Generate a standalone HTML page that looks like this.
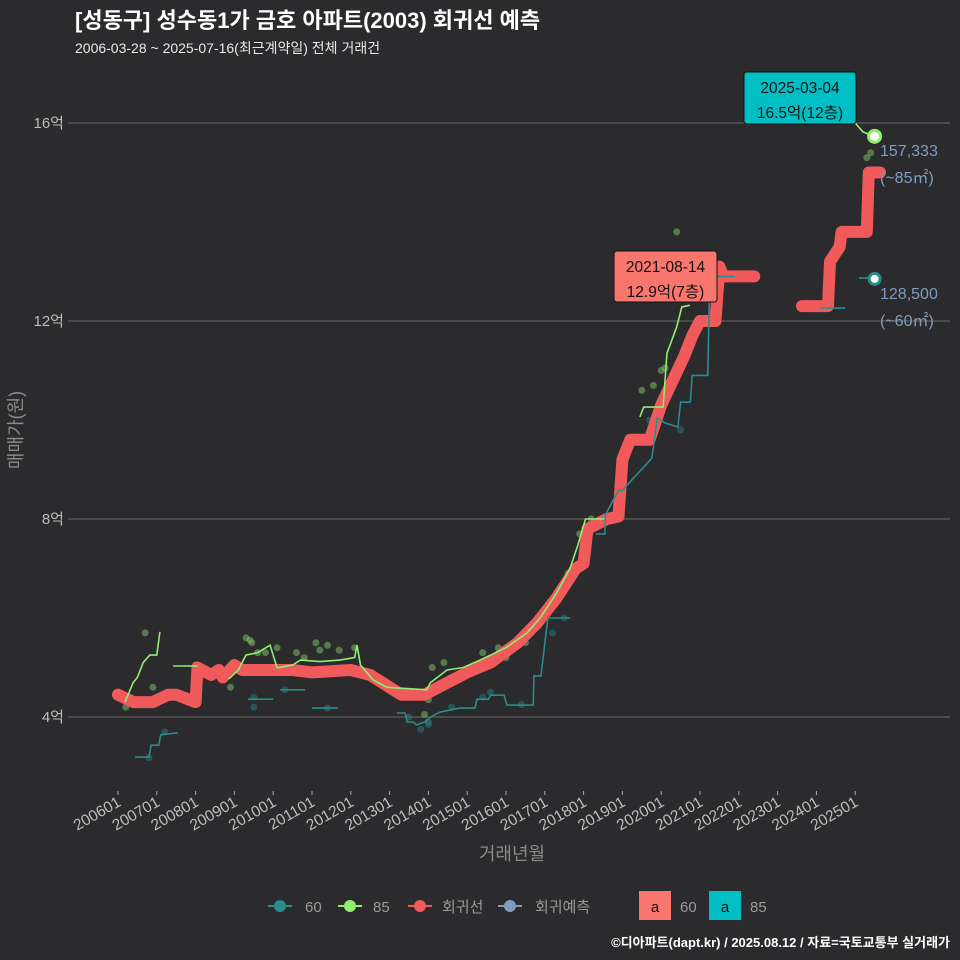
<!DOCTYPE html>
<html><head><meta charset="utf-8"><style>
body{margin:0;background:#2b2a2c;}
svg{display:block;font-family:"Liberation Sans","Noto Sans CJK KR",sans-serif;}
</style></head><body>
<svg id="c" width="960" height="960" xmlns="http://www.w3.org/2000/svg">
<rect width="960" height="960" fill="#2b2a2c"/>
<text x="75" y="28" fill="#ffffff" font-size="22" font-weight="bold">[성동구] 성수동1가 금호 아파트(2003) 회귀선 예측</text>
<text x="75" y="53" fill="#e8e8e8" font-size="14">2006-03-28 ~ 2025-07-16(최근계약일) 전체 거래건</text>
<g id="grid"></g><g id="xt"></g><g id="marks"></g>
<text transform="translate(22,430) rotate(-90)" text-anchor="middle" fill="#8a8a8a" font-size="18">매매가(원)</text>
<text x="512" y="860" text-anchor="middle" fill="#8a8a8a" font-size="18">거래년월</text>
<g font-size="15" fill="#9a9a9a">
<g><line x1="268" y1="906" x2="292" y2="906" stroke="#2a8c8c" stroke-width="2"/><circle cx="280" cy="906" r="6" fill="#2a8c8c"/><text x="305" y="912">60</text></g>
<g><line x1="338" y1="906" x2="362" y2="906" stroke="#90ee70" stroke-width="2"/><circle cx="350" cy="906" r="6" fill="#90ee70"/><text x="373" y="912">85</text></g>
<g><line x1="408" y1="906" x2="432" y2="906" stroke="#f05a5a" stroke-width="2"/><circle cx="420" cy="906" r="6" fill="#f05a5a"/><text x="442" y="912">회귀선</text></g>
<g><line x1="498" y1="906" x2="522" y2="906" stroke="#7f9cc0" stroke-width="2"/><circle cx="510" cy="906" r="6" fill="#7f9cc0"/><text x="535" y="912">회귀예측</text></g>
<g><rect x="639" y="891" width="32" height="29" fill="#f8766d"/><text x="655" y="912" fill="#111" text-anchor="middle">a</text><text x="680" y="912">60</text></g>
<g><rect x="709" y="891" width="32" height="29" fill="#00bfc4"/><text x="725" y="912" fill="#111" text-anchor="middle">a</text><text x="750" y="912">85</text></g>
</g>
<text x="950" y="947" text-anchor="end" fill="#ffffff" font-size="13" font-weight="bold">©디아파트(dapt.kr) / 2025.08.12 / 자료=국토교통부 실거래가</text>
</svg>
<script>
const yTicks=[4,8,12,16];
const xTickLabels=["200601","200701","200801","200901","201001","201101","201201","201301","201401","201501","201601","201701","201801","201901","202001","202101","202201","202301","202401","202501"];
const regT=[2006.0,2006.4,2006.9,2007.3,2007.5,2008.0,2008.05,2008.4,2008.6,2008.7,2009.0,2009.2,2010.5,2011,2012,2012.5,2013.0,2013.3,2013.9,2014.5,2015.0,2015.6,2016.3,2016.8,2017.3,2017.8,2018.0,2018.1,2018.6,2018.9,2019.0,2019.2,2019.7,2020.0,2020.3,2020.6,2020.8,2021.0,2021.4,2021.5,2021.6,2022.4,null,2023.63,2024.3,2024.35,2024.6,2024.65,2025.3,2025.35,2025.64];
const regV=[4.45,4.3,4.3,4.45,4.45,4.3,5.0,4.85,4.95,4.8,5.05,4.95,4.95,4.9,4.95,4.85,4.6,4.45,4.45,4.7,4.9,5.1,5.5,5.9,6.4,7.0,7.1,7.8,8.0,8.05,9.2,9.6,9.6,10.3,10.8,11.3,11.7,12.0,12.0,13.1,12.9,12.9,null,12.3,12.3,13.2,13.5,13.8,13.8,15.0,15.0];
const g85T=[2006.18,2006.39,2006.5,2006.65,2006.82,2007.0,2007.08,null,2007.42,2008.06,null,2008.84,2008.9,2009.1,2009.3,2009.6,2009.92,2010.1,2010.5,2010.7,2011.2,2011.72,2012.1,2012.16,2012.25,2012.57,2012.93,2013.96,2014.05,2014.48,2014.9,2015.33,2016.0,2016.54,2016.88,2017.3,2017.65,2017.85,2018.05,2018.55,null,2019.45,2019.55,2020.05,2020.15,2020.4,2020.53,2020.74,null,2025.0,2025.2,2025.5];
const g85V=[4.3,4.69,4.8,5.1,5.25,5.25,5.72,null,5.03,5.03,null,4.77,4.8,4.95,5.25,5.3,5.45,4.99,5.05,5.15,5.12,5.15,5.2,5.45,5.05,4.75,4.6,4.55,4.69,4.95,5.0,5.15,5.4,5.7,6.0,6.5,7.0,7.47,8.0,8.0,null,10.06,10.26,10.26,11.35,11.88,12.28,12.32,null,16.0,15.82,15.73];
const t60T=[2006.44,2006.8,2006.85,2007.05,2007.1,2007.55,null,2009.35,2010.0,null,2010.18,2010.82,null,2011.0,2011.67,null,2013.19,2013.4,2013.45,2013.6,2013.7,2013.9,2014.1,2014.3,2014.81,2015.2,2015.25,2015.55,2015.6,2015.95,2016.02,2016.7,2016.72,2016.9,2017.08,2017.65,null,2018.32,2018.55,2018.56,2018.9,2019.0,2019.76,2019.9,2020.1,2020.43,2020.5,2020.75,2020.8,2021.2,2021.25,2021.9,null,2024.1,2024.74,null,2025.1,2025.5];
const t60V=[3.19,3.19,3.43,3.43,3.64,3.68,null,4.36,4.36,null,4.55,4.55,null,4.18,4.18,null,4.08,4.08,3.9,3.9,3.84,3.9,4.02,4.1,4.18,4.18,4.36,4.36,4.44,4.44,4.24,4.24,4.83,4.83,6.0,6.0,null,7.7,7.7,8.08,8.58,8.58,9.23,10.04,9.94,9.86,10.36,10.36,10.9,10.9,12.9,12.9,null,12.26,12.26,null,12.87,12.87];
const dot85T=[2006.2,2006.7,2006.9,2008.0,2008.9,2009.3,2009.4,2009.45,2009.6,2009.8,2010.1,2010.6,2010.8,2011.1,2011.2,2011.4,2011.7,2012.1,2012.5,2013.4,2013.9,2014.0,2014.1,2014.4,2014.9,2015.4,2015.8,2016.0,2016.5,2016.9,2017.1,2017.4,2017.6,2017.9,2018.2,2019.2,2019.5,2019.8,2020.0,2020.1,2020.4,2020.9,2024.9,2025.3,2025.4];
const dot85V=[4.2,5.7,4.6,5.05,4.6,5.6,5.55,5.5,5.3,5.3,5.4,5.3,5.2,5.5,5.35,5.45,5.35,5.4,4.9,4.4,4.05,4.35,5.0,5.1,4.9,5.3,5.4,5.2,5.5,6.0,6.2,6.6,6.9,7.7,8.0,9.5,10.6,10.7,11.0,11.05,13.8,12.6,16.5,15.3,15.4];
const dot60T=[2006.8,2007.2,2009.5,2009.5,2010.3,2011.4,2013.5,2013.8,2014.0,2014.0,2014.6,2015.4,2015.6,2016.4,2017.2,2017.5,2018.6,2019.7,2020.5];
const dot60V=[3.18,3.7,4.4,4.2,4.55,4.18,4.0,3.75,3.9,3.85,4.2,4.4,4.5,4.25,5.7,6.0,8.0,10.0,9.8];

const NS='http://www.w3.org/2000/svg';
const X=t=>118+(t-2006)*38.8;
const Y=v=>717-(v-4)*49.5;
function el(tag,attrs,parent){const e=document.createElementNS(NS,tag);for(const k in attrs)e.setAttribute(k,attrs[k]);parent.appendChild(e);return e;}
const grid=document.getElementById('grid'),xt=document.getElementById('xt'),marks=document.getElementById('marks');
yTicks.forEach(v=>{
  const l=el('line',{x1:68,x2:950,y1:Y(v),y2:Y(v),stroke:'#6a6a6a','stroke-width':1},grid);
  
  
  const t=el('text',{x:64,y:Y(v)+5,'text-anchor':'end',fill:'#bdbdbd','font-size':15},grid);
  t.textContent=v+'억';
  
  
});
xTickLabels.forEach((s,i)=>{
  const x=X(2006+i);
  const tk=el('line',{x1:x,x2:x,y1:791,y2:795,stroke:'#aaa'},xt);
  
  
  const t=el('text',{transform:`translate(${x+4},${805}) rotate(-30)`,'text-anchor':'end',fill:'#bdbdbd','font-size':15.5},xt);
  t.textContent=s;
  
  
});
function path(T,V){let d='',pen=false;for(let i=0;i<T.length;i++){if(T[i]===null){pen=false;continue;}d+=(pen?'L':'M')+X(T[i]).toFixed(1)+' '+Y(V[i]).toFixed(1);pen=true;}return d;}
dot85T.forEach((t,i)=>{const c=el('circle',{cx:X(t),cy:Y(dot85V[i]),r:3.5,fill:'#7fc96a','fill-opacity':0.5},marks);
  
  });
dot60T.forEach((t,i)=>{const c=el('circle',{cx:X(t),cy:Y(dot60V[i]),r:3.5,fill:'#2a7f7f','fill-opacity':0.5},marks);
  
  });
const r=el('path',{d:path(regT,regV),fill:'none',stroke:'#f05a5a','stroke-width':12,'stroke-linejoin':'round','stroke-linecap':'round'},marks);


const g=el('path',{d:path(g85T,g85V),fill:'none',stroke:'#90ee70','stroke-width':1.6},marks);


const tl=el('path',{d:path(t60T,t60V),fill:'none',stroke:'#2a8c8c','stroke-width':1.6},marks);


const e1=el('circle',{cx:X(2025.5),cy:Y(15.73),r:6,fill:'#fff',stroke:'#90ee70','stroke-width':3},marks);


const e2=el('circle',{cx:X(2025.5),cy:Y(12.85),r:5.5,fill:'#fff',stroke:'#2a8c8c','stroke-width':3},marks);


function box(x,y,w,h,fill,l1,l2,name){const gg=el('g',{},marks);
  
  
  el('rect',{x:x,y:y,width:w,height:h,rx:3,fill:fill,stroke:'#111','stroke-width':1},gg);
  const a=el('text',{x:x+w/2,y:y+21,'text-anchor':'middle',fill:'#111','font-size':15.5},gg);a.textContent=l1;
  const b=el('text',{x:x+w/2,y:y+46,'text-anchor':'middle',fill:'#111','font-size':15.5},gg);b.textContent=l2;}
box(744,72,112,52,'#00bfc4','2025-03-04','16.5억(12층)','max-label-85');
box(614,251,103,51,'#f8766d','2021-08-14','12.9억(7층)','max-label-60');
[['157,333',156],['(~85㎡)',183],['128,500',299],['(~60㎡)',326]].forEach(([s,y])=>{
  const t=el('text',{x:880,y:y,fill:'#7f9cc0','font-size':16},marks);t.textContent=s;
  
  });
</script>
</body></html>
